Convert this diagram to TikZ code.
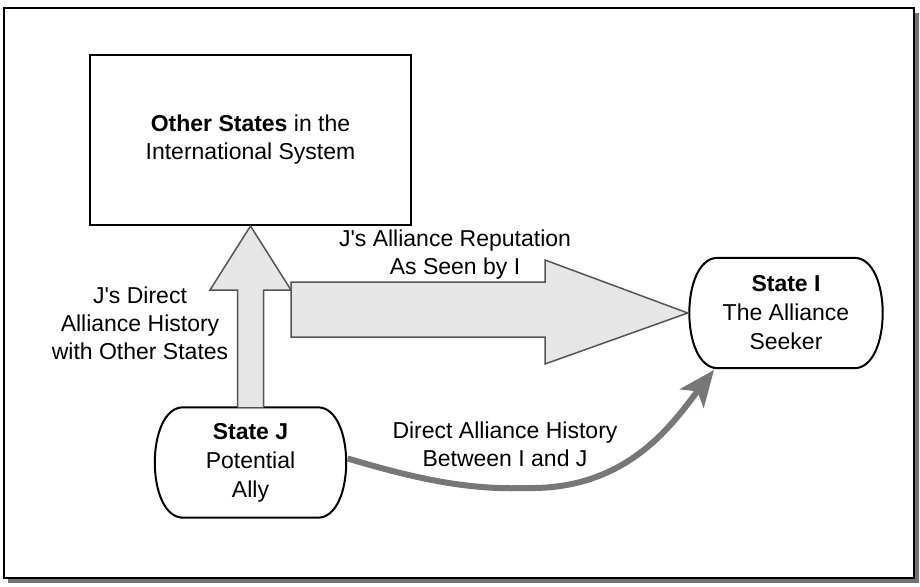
\documentclass[tikz,border=0pt]{standalone}
\usepackage{fontspec}
\setmainfont{Liberation Sans}
\usetikzlibrary{calc,arrows.meta}
\definecolor{fatfill}{HTML}{E6E6E6}
\definecolor{fatline}{HTML}{555555}
\definecolor{curvecol}{HTML}{777777}
\tikzset{
  txt/.style={align=center,font=\fontsize{23}{28}\selectfont,inner sep=0pt},
  boxnode/.style={draw,line width=2pt,minimum width=321pt,minimum height=170pt,align=center,font=\fontsize{23}{28}\selectfont},
  stadnode/.style={draw=none,minimum width=#1,minimum height=110pt,align=center,font=\fontsize{23}{29}\selectfont,inner sep=0pt},
  fat/.style={fill=fatfill,draw=fatline,line width=1.5pt,line join=miter},
  stadline/.style={line width=2pt}
}
\newcommand{\stadiumdraw}[1]{%
  \draw[stadline] ([xshift=30pt]#1.north west) -- ([xshift=-30pt]#1.north east)
    .. controls ([xshift=8pt]#1.north east) and ([xshift=8pt]#1.south east) .. ([xshift=-30pt]#1.south east)
    -- ([xshift=30pt]#1.south west)
    .. controls ([xshift=-8pt]#1.south west) and ([xshift=-8pt]#1.north west) .. ([xshift=30pt]#1.north west) -- cycle;}
\newcommand{\aps}{\textquotesingle}
\begin{document}
\begin{tikzpicture}[x=1pt,y=-1pt]
\useasboundingbox (0,0) rectangle (920,586);
% frame with shadow
\fill[black!55] (8,13) rectangle (919,583);
\fill[white,draw=black,line width=2.5pt] (4,8) rectangle (914,578);
% nodes
\node[boxnode] (os) at (250.5,140) {\textbf{Other States} in the\\International System};
\node[stadnode=196pt] (si) at (786,313) {\textbf{State I}\\The Alliance\\Seeker};
\node[stadnode=194pt] (sj) at (250.5,462.5) {\textbf{State J}\\Potential\\Ally};
\stadiumdraw{si}
\stadiumdraw{sj}
% vertical fat arrow from J to Other States
\draw[fat] ([xshift=-13pt]sj.north) -- (237.5,290) -- (210,290) -- (os.south)
  -- (291,290) -- (263.5,290) -- ([xshift=13pt]sj.north);
% horizontal fat arrow toward State I
\draw[fat] (291,282) -- (545,282) -- (545,260) -- (si.west) -- (545,364) -- (545,337) -- (291,337) -- cycle;
% curved arrow
\coordinate (ce) at (714,370);
\draw[curvecol,line width=6pt,-{Stealth[length=36pt,width=30pt,inset=9pt]}]
  ([yshift=4pt]sj.east) .. controls (420,480) and (470,490) .. (527,488)
  .. controls (630,490) and (675,420) .. (ce);
% labels
\node[txt] (l1) at (140,323) {J\aps s Direct\\Alliance History\\with Other States};
\node[txt] (l2) at (455,255) {J\aps s Alliance Reputation\\As Seen by I};
\node[txt] (l3) at (505,444) {Direct Alliance History\\Between I and J};
\end{tikzpicture}
\end{document}
